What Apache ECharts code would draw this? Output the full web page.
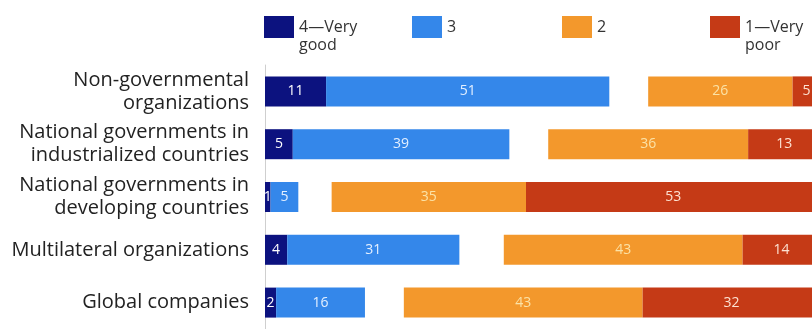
<!DOCTYPE html>
<html>
<head>
<meta charset="utf-8">
<script src="https://cdn.jsdelivr.net/npm/echarts@6/dist/echarts.min.js"></script>
<style>
  html, body { margin: 0; padding: 0; background: #ffffff; }
  #chart { width: 812px; height: 329px; }
</style>
</head>
<body>
<div id="chart"></div>
<script>
// Ratings of each type of organization (percent of respondents)
const categories = [
  'Non-governmental\norganizations',
  'National governments in\nindustrialized countries',
  'National governments in\ndeveloping countries',
  'Multilateral organizations',
  'Global companies'
];
const veryGood = [11, 5, 1, 4, 2];      // 4 — Very good
const good = [51, 39, 5, 31, 16];       // 3
const noAnswer = [7, 7, 6, 8, 7];       // remainder, left blank between the two sides
const poor = [26, 36, 35, 43, 43];      // 2
const veryPoor = [5, 13, 53, 14, 32];   // 1 — Very poor

const seriesNames = ['4—Very\ngood', '3', '2', '1—Very\npoor'];
const colors = ['#0c127f', '#3487ea', '#f3982c', '#c53a16'];
const labelColors = ['#ffffff', '#e3efff', '#fbe2a6', '#fde2d2'];

const FONT = '"Open Sans", "Noto Sans", sans-serif';

// The 100% scale runs a little past the right edge of the canvas,
// so the visible part of the axis stops just short of 100.
const AXIS_MAX = 98.5;

function barSeries(name, data, idx) {
  return {
    name: name,
    type: 'bar',
    stack: 'total',
    data: data,
    barWidth: 30,
    clip: false,
    itemStyle: { color: colors[idx] },
    label: {
      show: true,
      position: 'inside',
      color: labelColors[idx],
      fontFamily: FONT,
      fontSize: 14
    },
    emphasis: { disabled: true }
  };
}

// Two-line legend entries get an empty leading line so that the
// first line of text sits level with the colour swatch.
function legendFor(name, left, twoLine) {
  return {
    data: [name],
    left: left,
    top: twoLine ? 0 : 16,
    padding: 0,
    itemWidth: 30,
    itemHeight: 22,
    icon: 'rect',
    selectedMode: false,
    formatter: twoLine ? (n) => '\n' + n : '{name}',
    textStyle: {
      fontFamily: FONT,
      fontSize: 16,
      lineHeight: 18,
      color: '#333333'
    }
  };
}

const chart = echarts.init(document.getElementById('chart'), null, { renderer: 'canvas' });
chart.setOption({
  animation: false,
  backgroundColor: '#ffffff',
  legend: [
    legendFor(seriesNames[0], 264, true),
    legendFor(seriesNames[1], 412, false),
    legendFor(seriesNames[2], 562, false),
    legendFor(seriesNames[3], 710, true)
  ],
  grid: { left: 265, top: 65, right: 0, height: 270, containLabel: false },
  xAxis: {
    type: 'value',
    min: 0,
    max: AXIS_MAX,
    show: false
  },
  yAxis: {
    type: 'category',
    data: categories,
    inverse: true,
    axisLine: { show: true, lineStyle: { color: '#cfcfcf', width: 1 } },
    axisTick: { show: false },
    axisLabel: {
      margin: 16,
      fontFamily: FONT,
      fontSize: 20,
      lineHeight: 23,
      color: '#222222',
      align: 'right'
    }
  },
  series: [
    barSeries(seriesNames[0], veryGood, 0),
    barSeries(seriesNames[1], good, 1),
    {
      name: 'No answer',
      type: 'bar',
      stack: 'total',
      data: noAnswer,
      barWidth: 30,
      clip: false,
      itemStyle: { color: 'rgba(0,0,0,0)' },
      label: { show: false },
      emphasis: { disabled: true },
      silent: true
    },
    barSeries(seriesNames[2], poor, 2),
    barSeries(seriesNames[3], veryPoor, 3)
  ]
});
</script>
</body>
</html>
